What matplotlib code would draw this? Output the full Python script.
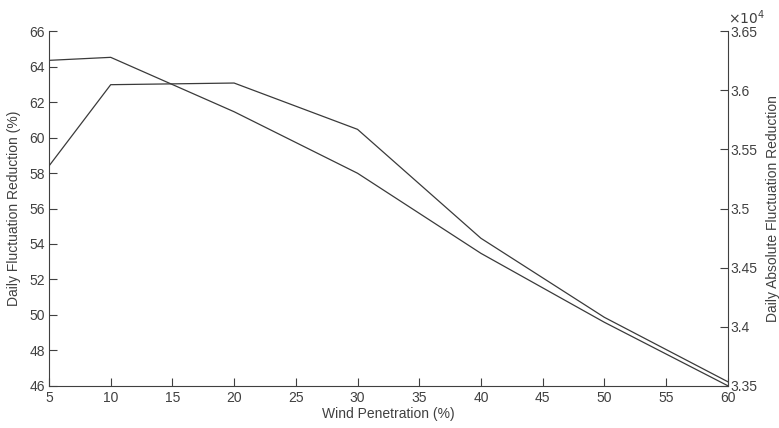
import matplotlib
matplotlib.use('Agg')
import matplotlib.pyplot as plt
from matplotlib.ticker import FuncFormatter

plt.rcParams['font.family'] = ['Liberation Sans', 'DejaVu Sans']
plt.rcParams['font.size'] = 10

# data
penetration = [5, 10, 20, 30, 40, 50, 60]
reduction_pct = [64.36, 64.53, 61.46, 57.99, 53.47, 49.58, 46.0]
reduction_abs = [35360, 36048, 36062, 35670, 34748, 34079, 33534]

axcol = '#404040'
linecol = '#3a3a3a'

fig = plt.figure(figsize=(7.79, 4.28), dpi=100)
ax = fig.add_axes([0.0629, 0.0988, 0.8713, 0.8281])
ax2 = ax.twinx()

ax.plot(penetration, reduction_pct, color=linecol, lw=0.9)
ax2.plot(penetration, reduction_abs, color=linecol, lw=0.9)

ax.set_xlim(5, 60)
ax.set_ylim(46, 66)
ax.set_xticks(range(5, 61, 5))
ax.set_yticks(range(46, 67, 2))
ax2.set_ylim(33500, 36500)
ax2.set_yticks([33500, 34000, 34500, 35000, 35500, 36000, 36500])
ax2.yaxis.set_major_formatter(FuncFormatter(lambda v, p: f'{v / 1e4:g}'))

for a in (ax, ax2):
    a.spines['top'].set_visible(False)
    for s in a.spines.values():
        s.set_color(axcol)
        s.set_linewidth(0.8)
    a.tick_params(direction='in', length=6, width=0.8, colors=axcol, labelsize=10)
ax.spines['right'].set_visible(False)
ax2.spines['left'].set_visible(False)
ax2.spines['bottom'].set_visible(False)
ax.tick_params(axis='x', pad=4)
ax.tick_params(axis='y', pad=3)
ax2.tick_params(axis='y', pad=2)

ax.set_xlabel('Wind Penetration (%)', color=axcol, labelpad=1)
ax.set_ylabel('Daily Fluctuation Reduction (%)', color=axcol, labelpad=6)
ax2.set_ylabel('Daily Absolute Fluctuation Reduction', color=axcol, labelpad=6)
ax2.text(1.0, 1.012, r'$\times10^4$', transform=ax2.transAxes, ha='left', va='bottom',
         color=axcol, fontsize=10)

plt.savefig('out.png', dpi=100)
